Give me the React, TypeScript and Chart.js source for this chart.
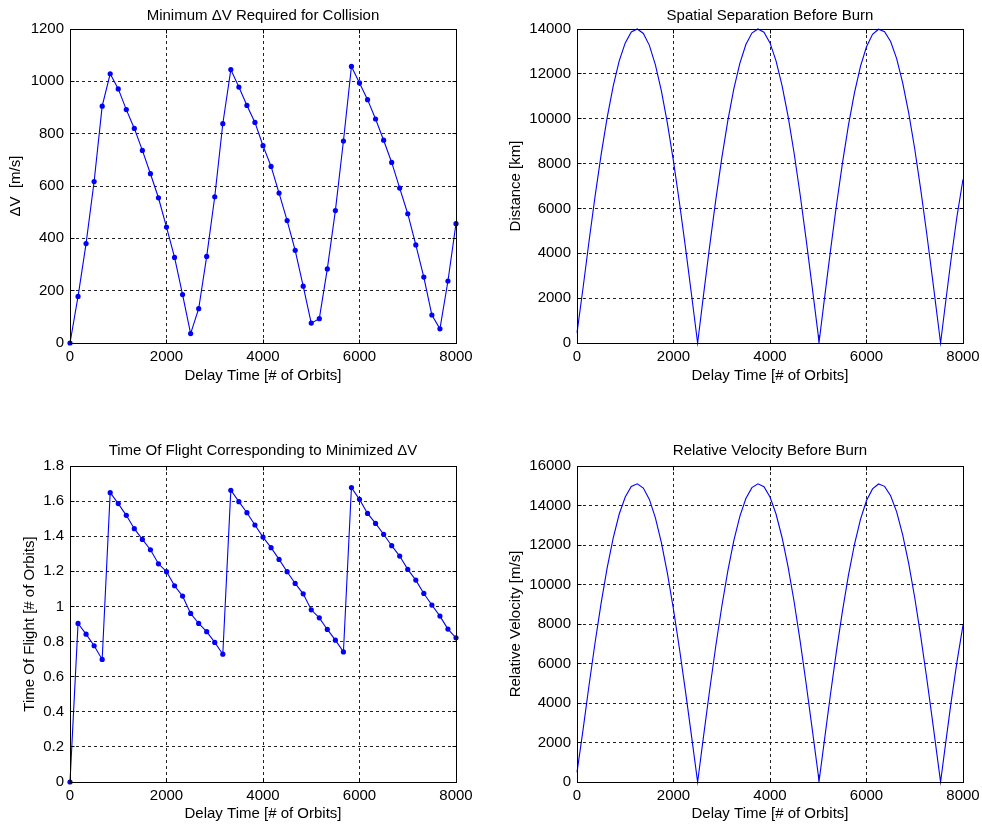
import React, { useEffect, useRef } from "react";
import { Chart, registerables } from "chart.js";

Chart.register(...registerables);

// ---------- data ----------
const DELAY_COARSE = [
  0, 167, 333, 500, 667, 833, 1000, 1167, 1333, 1500, 1667, 1833, 2000, 2167, 2333, 2500,
  2667, 2833, 3000, 3167, 3333, 3500, 3667, 3833, 4000, 4167, 4333, 4500, 4667, 4833, 5000,
  5167, 5333, 5500, 5667, 5833, 6000, 6167, 6333, 6500, 6667, 6833, 7000, 7167, 7333, 7500,
  7667, 7833, 8000,
];

const DELTA_V = [
  0, 178, 380, 617, 905, 1029, 971, 892, 820, 736, 647, 555, 443, 327, 185, 36,
  131, 331, 559, 838, 1045, 978, 908, 843, 754, 675, 573, 468, 354, 217, 76,
  93, 283, 506, 772, 1057, 994, 930, 856, 775, 690, 592, 494, 375, 252, 107,
  54, 237, 456,
];

const TIME_OF_FLIGHT = [
  0, 0.903, 0.842, 0.776, 0.698, 1.648, 1.586, 1.519, 1.443, 1.382, 1.323, 1.243, 1.198, 1.118, 1.059, 0.96,
  0.903, 0.856, 0.795, 0.728, 1.662, 1.597, 1.534, 1.464, 1.395, 1.335, 1.268, 1.198, 1.131, 1.072, 0.981,
  0.935, 0.869, 0.808, 0.741, 1.677, 1.61, 1.53, 1.473, 1.411, 1.346, 1.287, 1.211, 1.15, 1.074, 1.008,
  0.945, 0.871, 0.821,
];

const DELAY_FINE = [
  0, 125, 250, 375, 500, 625, 750, 875, 1000, 1125, 1250, 1375, 1500, 1625, 1750, 1875, 2000, 2125, 2250, 2375, 2500,
  2625, 2750, 2875, 3000, 3125, 3250, 3375, 3500, 3625, 3750, 3875, 4000, 4125, 4250, 4375, 4500, 4625, 4750, 4875, 5000, 5015,
  5125, 5250, 5375, 5500, 5625, 5750, 5875, 6000, 6125, 6250, 6375, 6500, 6625, 6750, 6875, 7000, 7125, 7250, 7375, 7500, 7535,
  7625, 7750, 7875, 8000,
];

const SEPARATION = [
  450, 2450, 4550, 6550, 8400, 10050, 11450, 12580, 13380, 13870, 14000, 13800, 13270, 12400, 11230, 9780, 8100, 6230, 4230, 2130, 0,
  2190, 4330, 6360, 8230, 9900, 11330, 12470, 13310, 13820, 14000, 13860, 13380, 12580, 11480, 10100, 8460, 6610, 4600, 2480, 340, 0,
  1910, 4060, 6110, 8000, 9700, 11150, 12330, 13210, 13760, 13990, 13880, 13440, 12680, 11600, 10250, 8650, 6830, 4850, 2750, 600, 0,
  1560, 3690, 5640, 7300,
];

const REL_VELOCITY = [
  485, 2640, 4910, 7065, 9060, 10840, 12350, 13570, 14430, 14960, 15100, 14885, 14310, 13375, 12110, 10550, 8735, 6720, 4560, 2300, 0,
  2360, 4670, 6860, 8875, 10680, 12220, 13450, 14355, 14905, 15100, 14950, 14430, 13570, 12380, 10895, 9125, 7130, 4960, 2675, 365, 0,
  2060, 4380, 6590, 8630, 10460, 12025, 13300, 14250, 14840, 15090, 14970, 14495, 13675, 12510, 11055, 9330, 7365, 5230, 2965, 650, 0,
  1680, 3980, 6085, 7940,
];

const X_TICK_STEP = 2000;
const X_MAX = 8000;

// ---------- styling ----------
const FONT = "'Liberation Sans', Arial, Helvetica, sans-serif";
const BLUE = "#0000ff";

const boxPlugin = {
  id: "matlabBox",
  afterDraw(chart: any) {
    const { ctx, chartArea: a, scales } = chart;
    const al = (v: number) => Math.round(v - 0.5) + 0.5;
    const L = al(a.left), R = al(a.right), T = al(a.top), B = al(a.bottom);
    ctx.save();
    ctx.strokeStyle = "#000";
    ctx.lineWidth = 1;
    ctx.setLineDash([]);
    ctx.strokeRect(L, T, R - L, B - T);
    const tl = 4;
    ctx.beginPath();
    scales.x.ticks.forEach((t: any) => {
      const p = al(scales.x.getPixelForValue(t.value));
      ctx.moveTo(p, B); ctx.lineTo(p, B - tl);
      ctx.moveTo(p, T); ctx.lineTo(p, T + tl);
    });
    scales.y.ticks.forEach((t: any) => {
      const p = al(scales.y.getPixelForValue(t.value));
      ctx.moveTo(L, p); ctx.lineTo(L + tl, p);
      ctx.moveTo(R, p); ctx.lineTo(R - tl, p);
    });
    ctx.stroke();
    ctx.restore();
  },
};

type PanelCfg = {
  left: number; top: number; width: number; height: number;
  title: string; yTitle: string;
  xs: number[]; ys: number[]; markers: boolean;
  yMax: number; yStep: number; yFmt: (v: number) => string;
  titlePad: { top: number; bottom: number };
  yTitlePad: number; yWidth: number; xHeight: number;
  padRight: number; padBottom: number;
};

function Panel({ cfg }: { cfg: PanelCfg }) {
  const ref = useRef<HTMLCanvasElement | null>(null);
  useEffect(() => {
    if (!ref.current) return;
    const data = cfg.xs.map((x, i) => ({ x, y: cfg.ys[i] }));
    const chart = new Chart(ref.current, {
      type: "line",
      data: {
        datasets: [
          {
            data,
            borderColor: BLUE,
            backgroundColor: BLUE,
            borderWidth: 1.1,
            pointRadius: cfg.markers ? 2.6 : 0,
            pointHoverRadius: 0,
            pointStyle: "circle",
            pointBorderWidth: 0,
            tension: 0,
            fill: false,
            clip: false as any,
          },
        ],
      },
      options: {
        responsive: false,
        animation: false,
        events: [],
        layout: { padding: { left: 0, top: 0, right: cfg.padRight, bottom: cfg.padBottom } },
        plugins: {
          legend: { display: false },
          tooltip: { enabled: false },
          title: {
            display: true,
            fullSize: false,
            text: cfg.title,
            color: "#000",
            font: { family: FONT, size: 15, weight: "normal" as any, lineHeight: 1.2 },
            padding: cfg.titlePad,
          },
        },
        scales: {
          x: {
            type: "linear",
            min: 0,
            max: X_MAX,
            afterFit: (s: any) => {
              s.height = cfg.xHeight;
              s.paddingLeft = 0;
              s.paddingRight = 0;
            },
            grid: { color: "#222", lineWidth: 1, drawTicks: false },
            border: { display: false, dash: [3, 3] },
            ticks: {
              stepSize: X_TICK_STEP,
              autoSkip: false,
              maxRotation: 0,
              padding: 5,
              color: "#000",
              font: { family: FONT, size: 15 },
              callback: (v: any) => String(v),
            },
            title: {
              display: true,
              text: "Delay Time [# of Orbits]",
              color: "#000",
              font: { family: FONT, size: 15, lineHeight: 1.2 },
              padding: { top: 0, bottom: 0 },
            },
          },
          y: {
            type: "linear",
            min: 0,
            max: cfg.yMax,
            afterFit: (s: any) => {
              s.width = cfg.yWidth;
              s.paddingTop = 0;
              s.paddingBottom = 0;
            },
            grid: { color: "#222", lineWidth: 1, drawTicks: false },
            border: { display: false, dash: [3, 3] },
            ticks: {
              stepSize: cfg.yStep,
              autoSkip: false,
              padding: 6,
              color: "#000",
              font: { family: FONT, size: 15 },
              callback: (v: any) => cfg.yFmt(Number(v)),
            },
            title: {
              display: true,
              text: cfg.yTitle,
              color: "#000",
              font: { family: FONT, size: 15, lineHeight: 1.2 },
              padding: { top: cfg.yTitlePad, bottom: 0 },
            },
          },
        },
      },
      plugins: [boxPlugin],
    });
    return () => chart.destroy();
  }, [cfg]);
  return (
    <canvas
      ref={ref}
      width={cfg.width}
      height={cfg.height}
      style={{ position: "absolute", left: cfg.left, top: cfg.top, width: cfg.width, height: cfg.height, display: "block" }}
    />
  );
}

const intFmt = (v: number) => String(Math.round(v));
const decFmt = (v: number) => String(Math.round(v * 10) / 10);

const PANELS: PanelCfg[] = [
  {
    left: 0, top: 0, width: 491, height: 412,
    title: "Minimum \u0394V Required for Collision", yTitle: "\u0394V  [m/s]",
    xs: DELAY_COARSE, ys: DELTA_V, markers: true,
    yMax: 1200, yStep: 200, yFmt: intFmt,
    titlePad: { top: 6.5, bottom: 4.5 }, yTitlePad: 6.6, yWidth: 70, xHeight: 42,
    padRight: 35, padBottom: 27,
  },
  {
    left: 491, top: 0, width: 491, height: 412,
    title: "Spatial Separation Before Burn", yTitle: "Distance [km]",
    xs: DELAY_FINE, ys: SEPARATION, markers: false,
    yMax: 14000, yStep: 2000, yFmt: intFmt,
    titlePad: { top: 6.5, bottom: 4.5 }, yTitlePad: 15.8, yWidth: 86, xHeight: 42,
    padRight: 19, padBottom: 27,
  },
  {
    left: 0, top: 412, width: 491, height: 413,
    title: "Time Of Flight Corresponding to Minimized \u0394V", yTitle: "Time Of Flight [# of Orbits]",
    xs: DELAY_COARSE, ys: TIME_OF_FLIGHT, markers: true,
    yMax: 1.8, yStep: 0.2, yFmt: decFmt,
    titlePad: { top: 30, bottom: 6 }, yTitlePad: 21, yWidth: 70, xHeight: 41,
    padRight: 35, padBottom: 2,
  },
  {
    left: 491, top: 412, width: 491, height: 413,
    title: "Relative Velocity Before Burn", yTitle: "Relative Velocity [m/s]",
    xs: DELAY_FINE, ys: REL_VELOCITY, markers: false,
    yMax: 16000, yStep: 2000, yFmt: intFmt,
    titlePad: { top: 30, bottom: 6 }, yTitlePad: 15.8, yWidth: 86, xHeight: 41,
    padRight: 19, padBottom: 2,
  },
];

export default function App() {
  return (
    <div style={{ position: "absolute", left: 0, top: 0, width: 982, height: 825, background: "#fff" }}>
      {PANELS.map((p, i) => (
        <Panel key={i} cfg={p} />
      ))}
    </div>
  );
}
